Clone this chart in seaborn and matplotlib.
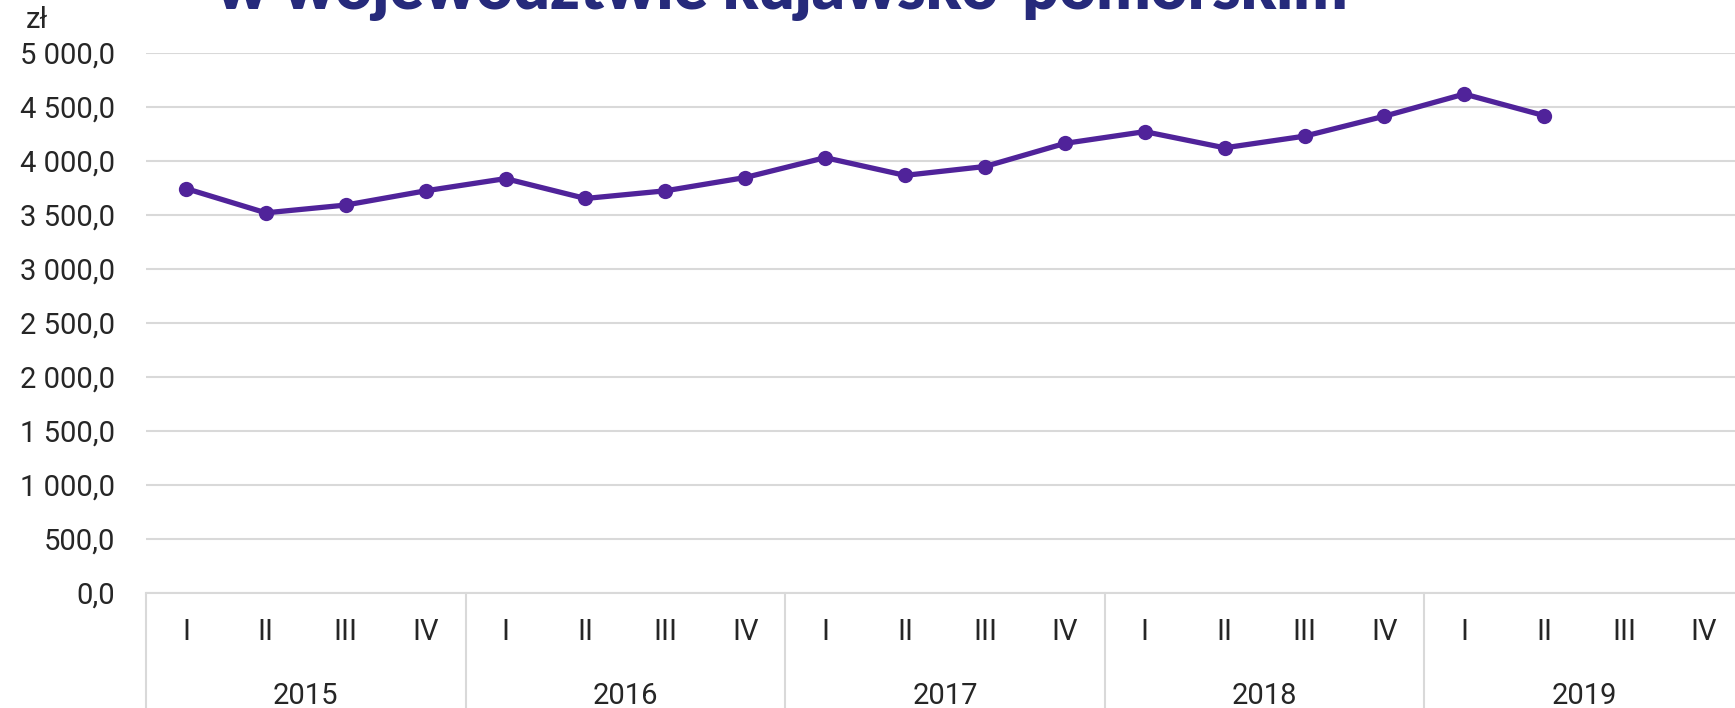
import numpy as np
import pandas as pd
import matplotlib
matplotlib.use('Agg')
import matplotlib.pyplot as plt
import seaborn as sns

YEARS = ['2015', '2016', '2017', '2018', '2019']
QUARTERS = ['I', 'II', 'III', 'IV']
VALUES = [3745, 3520, 3592, 3724,
          3837, 3653, 3724, 3847,
          4031, 3867, 3949, 4163,
          4272, 4122, 4230, 4415,
          4620, 4420]
Y_TICKS = [0, 500, 1000, 1500, 2000, 2500, 3000, 3500, 4000, 4500, 5000]
TITLE = 'w województwie kujawsko-pomorskim'

LINE_COLOR = '#50239A'
TITLE_COLOR = '#262A7B'
GRID_COLOR = '#D9D9D9'

sns.set_theme(style='white')
plt.rcParams['font.family'] = ['Roboto', 'DejaVu Sans']

df = pd.DataFrame({'pos': np.arange(len(VALUES)), 'value': VALUES})
n_slots = len(YEARS) * len(QUARTERS)

fig = plt.figure(figsize=(17.35, 7.08), dpi=100)
ax = fig.add_axes([146 / 1735, 1 - 593 / 708, 1598 / 1735, 540 / 708])

sns.lineplot(data=df, x='pos', y='value', ax=ax, color=LINE_COLOR, lw=3.8,
             marker='o', markersize=11, markeredgewidth=0, clip_on=False)

ax.set_xlim(-0.5, n_slots - 0.5)
ax.set_ylim(0, 5000)
ax.set_yticks(Y_TICKS)
ax.set_yticklabels([f'{v:,.1f}'.replace(',', ' ').replace('.', ',') for v in Y_TICKS])
ax.yaxis.grid(True, color=GRID_COLOR, lw=1.5)
ax.set_axisbelow(True)
ax.tick_params(axis='y', length=0, pad=22, labelsize=21)
ax.set_xlabel('')
ax.set_ylabel('')
for side in ['top', 'right', 'left']:
    ax.spines[side].set_visible(False)
ax.spines['bottom'].set_color(GRID_COLOR)
ax.spines['bottom'].set_linewidth(1.5)

ax.set_xticks(np.arange(n_slots))
ax.set_xticklabels(QUARTERS * len(YEARS))
ax.tick_params(axis='x', length=0, pad=18, labelsize=21)

trans = ax.get_xaxis_transform()
for i, year in enumerate(YEARS):
    center = i * len(QUARTERS) + (len(QUARTERS) - 1) / 2
    ax.text(center, -0.19, year, transform=trans, ha='center', va='center', fontsize=21)
for i in range(len(YEARS) + 1):
    xb = i * len(QUARTERS) - 0.5
    ax.plot([xb, xb], [0, -0.3], transform=trans, color=GRID_COLOR, lw=1.5, clip_on=False)

fig.text(37 / 1735, 1 - 20 / 708, 'zł', ha='center', va='center', fontsize=21)
fig.text(216 / 1735, 1 - 9 / 708, TITLE, ha='left', va='baseline', fontsize=46,
         fontweight='heavy', color=TITLE_COLOR, family=['Lato', 'DejaVu Sans'])

fig.savefig('out.png', dpi=100)
